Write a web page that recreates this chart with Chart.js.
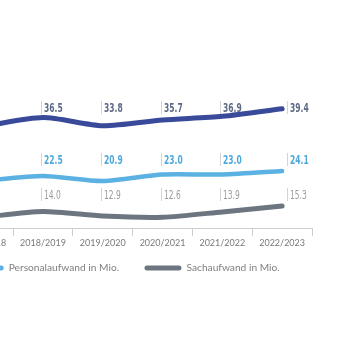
<!DOCTYPE html>
<html>
<head>
    <title>Aufwand in Mio.</title>
    <script src="https://cdn.jsdelivr.net/npm/chart.js@4.4.0/dist/chart.umd.min.js"></script>
    <style>
        body { margin: 0; background: #fff; overflow: hidden; }
        #wrap { position: absolute; left: -226px; top: 0; width: 572px; height: 346px; }
    </style>
</head>
<body>
    <div id="wrap"><canvas id="myChart"></canvas></div>

    <script>
        // Geschäftsjahre; die ersten Jahre liegen ausserhalb des sichtbaren Bereichs
        var jahre = ['2014/2015', '2015/2016', '2016/2017', '2017/2018', '2018/2019', '2019/2020', '2020/2021', '2021/2022', '2022/2023'];
        var gesamtaufwand = [null, null, null, 33.6, 36.5, 33.8, 35.7, 36.9, 39.4];
        var personalaufwand = [null, null, null, 21.0, 22.5, 20.9, 23.0, 23.0, 24.1];
        var sachaufwand = [null, null, null, 12.6, 14.0, 12.9, 12.6, 13.9, 15.3];

        var ctx = document.getElementById('myChart').getContext('2d');

        // Wert über jedem Punkt (ab dem zweiten Jahr), mit kleinem Strich davor
        var wertLabels = {
            id: 'wertLabels',
            afterDatasetsDraw: function(chart) {
                var c = chart.ctx;
                var top = chart.chartArea.top;
                chart.data.datasets.forEach(function(ds, i) {
                    var meta = chart.getDatasetMeta(i);
                    var y = top + ds.labelRow;
                    var first = true;
                    meta.data.forEach(function(pt, j) {
                        var v = ds.data[j];
                        if (v === null) return;
                        if (first) { first = false; return; }
                        // letzter Wert etwas nach rechts, weg vom Linienende
                        var x = Math.round(pt.x) + (j === ds.data.length - 1 ? 7 : 0);
                        c.save();
                        c.strokeStyle = '#d4d4d4';
                        c.lineWidth = 1;
                        c.beginPath();
                        c.moveTo(x - 1.5, y - 7);
                        c.lineTo(x - 1.5, y + 6);
                        c.stroke();
                        // schmale Schrift: horizontal gestaucht
                        c.translate(x + 1, y);
                        c.scale(0.7, 1);
                        c.font = ds.labelFont;
                        c.textBaseline = 'middle';
                        c.textAlign = 'left';
                        c.fillStyle = ds.labelColor;
                        c.fillText(v.toFixed(1), 0, 0.5);
                        c.restore();
                    });
                });
            }
        };

        var chart = new Chart(ctx, {
            type: 'line',
            data: {
                labels: jahre,
                datasets: [{
                    label: 'Gesamtaufwand in Mio.',
                    data: gesamtaufwand,
                    yAxisID: 'yGesamt',
                    borderColor: '#3a4a9a',
                    backgroundColor: '#3a4a9a',
                    borderWidth: 5,
                    labelRow: 18,
                    labelColor: '#5d6a86',
                    labelFont: 'bold 12px "DejaVu Sans Condensed", "DejaVu Sans", sans-serif'
                }, {
                    label: 'Personalaufwand in Mio.',
                    data: personalaufwand,
                    yAxisID: 'yPersonal',
                    borderColor: '#5cb1e3',
                    backgroundColor: '#5cb1e3',
                    borderWidth: 4.5,
                    labelRow: 70,
                    labelColor: '#4fa8dd',
                    labelFont: 'bold 12px "DejaVu Sans Condensed", "DejaVu Sans", sans-serif'
                }, {
                    label: 'Sachaufwand in Mio.',
                    data: sachaufwand,
                    yAxisID: 'ySach',
                    borderColor: '#6d7680',
                    backgroundColor: '#6d7680',
                    borderWidth: 5,
                    labelRow: 105,
                    labelColor: '#9c9c9c',
                    labelFont: '12px "DejaVu Sans Condensed", "DejaVu Sans", sans-serif'
                }]
            },
            options: {
                responsive: true,
                maintainAspectRatio: false,
                animation: false,
                layout: {
                    padding: { top: 90, right: 34, bottom: 63, left: 0 }
                },
                elements: {
                    line: { tension: 0.25, borderCapStyle: 'round', borderJoinStyle: 'round' },
                    point: { radius: 0, hoverRadius: 0 }
                },
                scales: {
                    x: {
                        offset: true,
                        grid: {
                            offset: true,
                            drawOnChartArea: false,
                            tickLength: 8,
                            color: '#cfcfcf'
                        },
                        border: { color: '#cfcfcf' },
                        ticks: {
                            color: '#7a7a7a',
                            padding: 2,
                            maxRotation: 0,
                            autoSkip: false,
                            font: { family: 'Lato', size: 9 }
                        }
                    },
                    yGesamt: { display: false, min: 0, max: 45.6 },
                    yPersonal: { display: false, min: 5.9, max: 50 },
                    ySach: { display: false, min: 10, max: 43.4 }
                },
                plugins: {
                    tooltip: { enabled: false },
                    legend: {
                        position: 'bottom',
                        labels: {
                            boxWidth: 37,
                            boxHeight: 5,
                            padding: 12,
                            useBorderRadius: true,
                            borderRadius: 2.5,
                            color: '#808080',
                            font: { family: 'Lato', size: 10.2 },
                            generateLabels: function(chart) {
                                // Abstand zwischen den Einträgen über angehängte Leerräume
                                return Chart.defaults.plugins.legend.labels.generateLabels(chart).map(function(item) {
                                    item.lineWidth = 0;
                                    item.text = item.text + '\u2003\u2002\u200A';
                                    return item;
                                });
                            }
                        }
                    }
                }
            },
            plugins: [wertLabels]
        });
    </script>
</body>
</html>
